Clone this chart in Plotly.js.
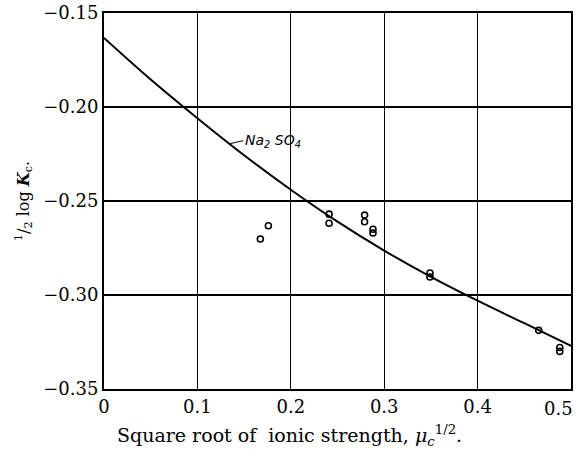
<!DOCTYPE html>
<html>
<head>
<meta charset="utf-8">
<script src="https://cdn.plot.ly/plotly-3.0.1.min.js"></script>
<style>html,body{margin:0;padding:0;background:#fff;}#chart{width:576px;height:451px;}</style>
</head>
<body>
<div id="chart"></div>
<script>
// Smooth theoretical curve for Na2SO4
const curveX = [0, 0.05, 0.1, 0.15, 0.2, 0.25, 0.3, 0.35, 0.4, 0.45, 0.5];
const curveY = [-0.1633, -0.1854, -0.2060, -0.2257, -0.2440, -0.2610, -0.2764, -0.2903, -0.3030, -0.3150, -0.3270];
// Observed points
const obsX = [0.1674, 0.176, 0.241, 0.241, 0.279, 0.279, 0.288, 0.288, 0.349, 0.349, 0.4654, 0.488, 0.488];
const obsY = [-0.2702, -0.2632, -0.257, -0.2618, -0.2575, -0.261, -0.265, -0.267, -0.2883, -0.2904, -0.3188, -0.3279, -0.3300];
const xTicks = [0, 0.1, 0.2, 0.3, 0.4, 0.5];
const xTickText = ['0', '0.1', '0.2', '0.3', '0.4', '0.5'];
const yTicks = [-0.35, -0.30, -0.25, -0.20, -0.15];
const yTickText = ['\u22120.35', '\u22120.30', '\u22120.25', '\u22120.20', '\u22120.15'];
const curveLabel = 'Na<sub>2</sub> SO<sub>4</sub>';
const xTitle = 'Square root of  ionic strength, <i>μ<sub>c</sub></i><sup>1/2</sup>.';
const yTitle = '<sup>1</sup>/<sub>2</sub> log <b><i>K</i></b><sub>c</sub>.';

const traces = [
  {x: curveX, y: curveY, mode: 'lines', line: {color: '#000', width: 2, shape: 'spline'}, hoverinfo: 'skip'},
  {x: obsX, y: obsY, mode: 'markers', marker: {symbol: 'circle-open', size: 6, color: '#000', line: {width: 1.6, color: '#000'}}}
];

const serif = 'DejaVu Serif, Liberation Serif, serif';
const lastIdx = xTickText.length - 1;
const layout = {
  width: 576, height: 451,
  margin: {l: 104, r: 5, t: 13, b: 62},
  paper_bgcolor: '#fff', plot_bgcolor: '#fff',
  showlegend: false,
  font: {family: serif, color: '#000', size: 18},
  xaxis: {
    range: [0, 0.5], tickvals: xTicks.slice(0, lastIdx), ticktext: xTickText.slice(0, lastIdx),
    showgrid: true, gridcolor: '#000', gridwidth: 1,
    zeroline: false, showline: true, linecolor: '#000', linewidth: 2, mirror: true,
    ticks: '', ticklen: 0, tickfont: {family: serif, size: 18, color: '#000'}
  },
  yaxis: {
    range: [-0.35, -0.15], tickvals: yTicks, ticktext: yTickText,
    showgrid: true, gridcolor: '#000', gridwidth: 2,
    zeroline: false, showline: true, linecolor: '#000', linewidth: 2, mirror: true,
    ticks: '', ticklen: 0, tickfont: {family: serif, size: 18, color: '#000'},
    title: {text: yTitle, font: {family: serif, size: 16, color: '#000'}, standoff: 10}
  },
  annotations: [{
    x: 0.135, y: -0.2195, xref: 'x', yref: 'y',
    text: '<i>' + curveLabel + '</i>', showarrow: true, arrowhead: 0, arrowwidth: 1, arrowcolor: '#000',
    ax: 13, ay: -3, xanchor: 'left', yanchor: 'middle',
    font: {family: 'DejaVu Sans, sans-serif', size: 14, color: '#000'}
  }, {
    x: xTicks[lastIdx], y: 0, xref: 'x', yref: 'paper',
    text: xTickText[lastIdx], showarrow: false, xanchor: 'right', yanchor: 'top',
    xshift: 4, yshift: -7,
    font: {family: serif, size: 18, color: '#000'}
  }, {
    x: (115 - 104) / (576 - 104 - 5), y: -(435 - 389) / (451 - 13 - 62), xref: 'paper', yref: 'paper',
    text: xTitle, showarrow: false, xanchor: 'left', yanchor: 'middle',
    font: {family: serif, size: 19, color: '#000'}
  }]
};

Plotly.newPlot('chart', traces, layout, {displayModeBar: false, staticPlot: true});
</script>
</body>
</html>
